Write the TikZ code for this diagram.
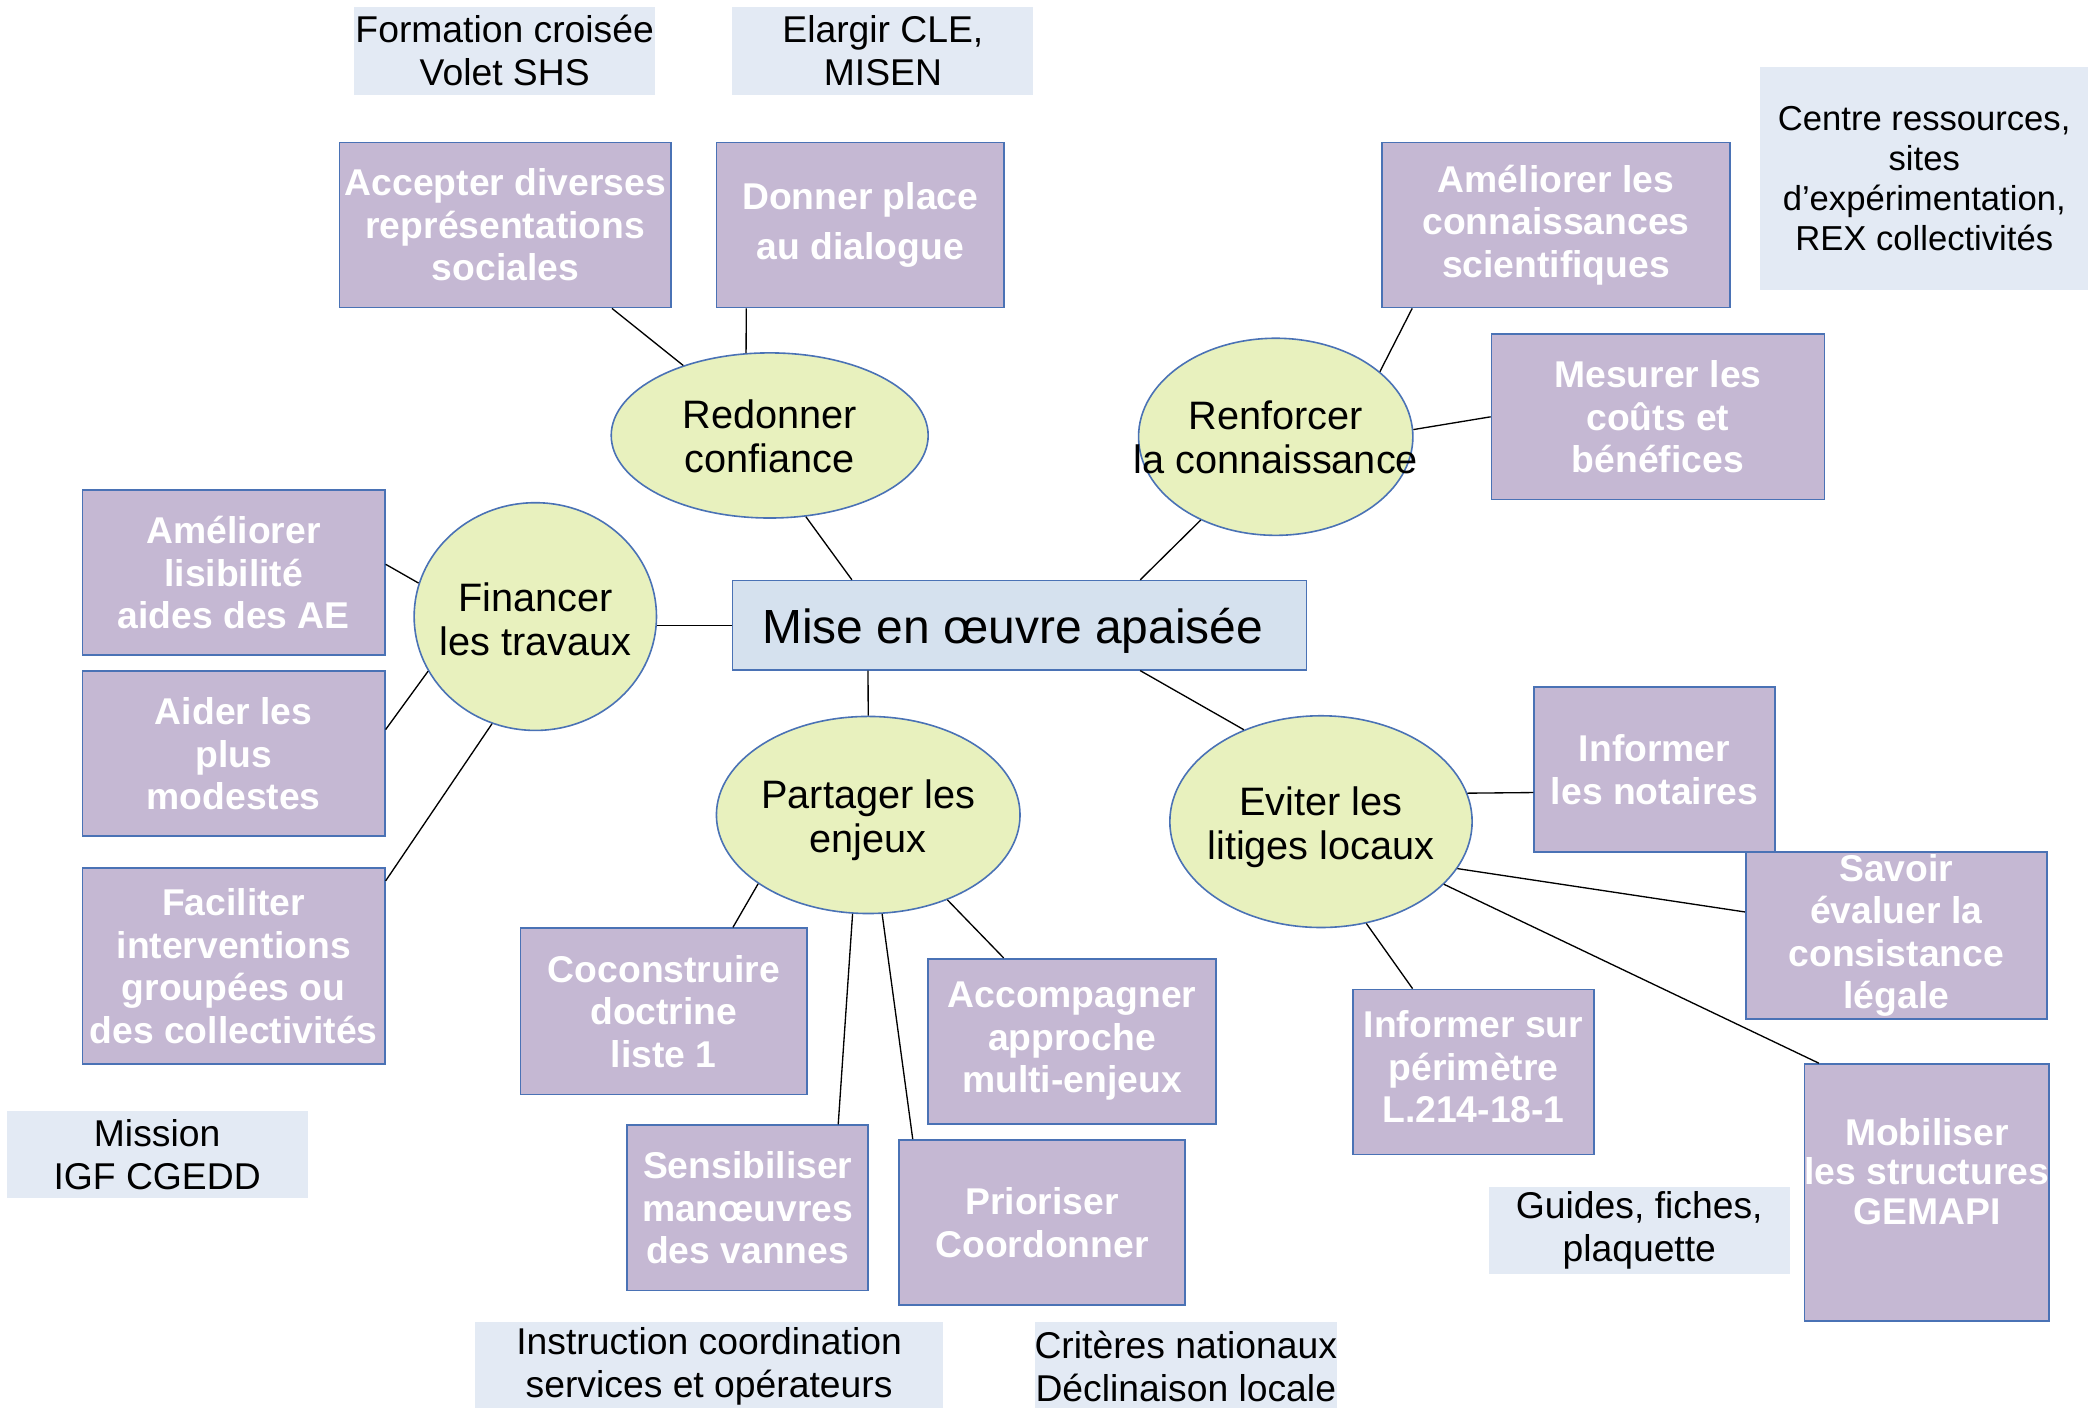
\documentclass[tikz,border=0pt]{standalone}
\usepackage{fontspec}
\setmainfont{Liberation Sans}
\usetikzlibrary{shapes.geometric,calc}
\definecolor{purp}{RGB}{197,184,211}
\definecolor{bord}{RGB}{74,114,181}
\definecolor{lblue}{RGB}{227,234,244}
\definecolor{cblue}{RGB}{213,225,238}
\definecolor{ellf}{RGB}{232,241,190}
\newcommand\etxt[2][6pt]{\makebox[0pt]{\raisebox{-#1}[0pt][0pt]{\begin{tabular}{@{}c@{}}#2\end{tabular}}}}
\begin{document}
\begin{tikzpicture}[x=0.5pt,y=-0.5pt,
 pbox/.style={rectangle,draw=bord,line width=0.6pt,fill=purp,text=white,font=\bfseries\fontsize{14}{16}\selectfont,align=center,inner sep=0pt},
 lbox/.style={rectangle,fill=lblue,font=\fontsize{14}{16}\selectfont,align=center,inner sep=0pt},
 ell/.style={ellipse,draw=bord,line width=0.6pt,fill=ellf,inner sep=0pt,font=\fontsize{14.9}{16.5}\selectfont},
 conn/.style={draw=black,line width=0.5pt}]
\useasboundingbox (0,0) rectangle (1568,1057);
\clip (0,0) rectangle (1568,1057);

% light blue notes
\node[lbox,minimum width=113pt,minimum height=33pt] (n1) at (379,38) {Formation croisée\\Volet SHS};
\node[lbox,minimum width=113pt,minimum height=33pt] (n2) at (663,38) {Elargir CLE,\\MISEN};
\node[lbox,minimum width=123pt,minimum height=84pt,font=\fontsize{13}{15}\selectfont] (n3) at (1445,134) {Centre ressources,\\sites\\d’expérimentation,\\REX collectivités};
\node[lbox,minimum width=113pt,minimum height=33pt] (n4) at (118,867) {Mission\\IGF CGEDD};
\node[lbox,minimum width=113pt,minimum height=33pt] (n5) at (1231,924) {Guides, fiches,\\plaquette};
\node[lbox,minimum width=175.5pt,minimum height=33pt] (n6) at (532.5,1026) {Instruction coordination\\services et opérateurs};
\node[lbox,minimum width=113.5pt,minimum height=33pt] (n7) at (890.5,1026) {Critères nationaux\\Déclinaison locale};

% central box
\node[rectangle,draw=bord,line width=0.6pt,fill=cblue,minimum width=215.5pt,minimum height=33.5pt,inner sep=0pt,font=\fontsize{18}{21}\selectfont] (main) at (765.5,469.5) {\raisebox{-6.75pt}[0pt][0pt]{\makebox[0pt]{Mise en œuvre apaisée\hspace{5pt}}}};

% ellipses
\node[ell,minimum width=119pt,minimum height=62pt] (red) at (578,327) {\etxt{Redonner\\confiance}};
\node[ell,minimum width=103pt,minimum height=74pt] (ren) at (958,328) {\etxt{Renforcer\\la connaissance}};
\node[ell,minimum width=91pt,minimum height=85.5pt] (fin) at (402,463) {\etxt[6.8pt]{Financer\\les travaux}};
\node[ell,minimum width=114pt,minimum height=74pt] (par) at (652,612) {\etxt{Partager les\\enjeux}};
\node[ell,minimum width=113.5pt,minimum height=79.5pt] (evi) at (992,617) {\etxt[6.3pt]{Eviter les\\litiges locaux}};

% purple boxes
\node[pbox,minimum width=124.5pt,minimum height=62pt] (acc) at (379.5,169) {Accepter diverses\\représentations\\sociales};
\node[pbox,minimum width=108pt,minimum height=62pt] (don) at (646,169) {Donner place\\[3pt]au dialogue};
\node[pbox,minimum width=130.5pt,minimum height=62pt] (ame) at (1168.5,169) {Améliorer les\\connaissances\\scientifiques};
\node[pbox,minimum width=125pt,minimum height=62pt] (mes) at (1245,313) {Mesurer les\\coûts et\\bénéfices};
\node[pbox,minimum width=113.5pt,minimum height=62pt] (lis) at (175.5,430) {Améliorer\\lisibilité\\aides des AE};
\node[pbox,minimum width=113.5pt,minimum height=62pt] (aid) at (175.5,566) {Aider les\\plus\\modestes};
\node[pbox,minimum width=113.5pt,minimum height=73.5pt] (fac) at (175.5,725.5) {Faciliter\\interventions\\groupées ou\\des collectivités};
\node[pbox,minimum width=107.5pt,minimum height=62.5pt] (coc) at (498.5,759.5) {Coconstruire\\doctrine\\liste 1};
\node[pbox,minimum width=108pt,minimum height=62pt] (acp) at (805,782) {Accompagner\\approche\\multi-enjeux};
\node[pbox,minimum width=90.5pt,minimum height=62pt] (sen) at (561.5,907) {Sensibiliser\\manœuvres\\des vannes};
\node[pbox,minimum width=107.5pt,minimum height=62pt] (pri) at (782.5,918) {Prioriser\\Coordonner};
\node[pbox,minimum width=90.5pt,minimum height=62pt] (not) at (1242.5,578) {Informer\\les notaires};
\node[pbox,minimum width=113pt,minimum height=62.5pt] (sav) at (1424,702.5) {Savoir\\évaluer la\\consistance\\légale};
\node[pbox,minimum width=90.5pt,minimum height=62pt] (inf) at (1106.5,805) {Informer sur\\périmètre\\L.214-18-1\\[-12pt]\mbox{}};
\node[pbox,minimum width=90pt,minimum height=96.5pt,font=\bfseries\fontsize{14}{14.8}\selectfont] (mob) at (1447,895.5) {Mobiliser\\les structures\\GEMAPI\\[1pt]\mbox{}};

% connectors
\draw[conn] ($(main.north west)!0.209!(main.north east)$) -- (red.294);
\draw[conn] ($(main.north west)!0.71!(main.north east)$) -- (ren.228);
\draw[conn] (main.west) -- (main.west -| fin.east);
\draw[conn] ($(main.south west)!0.237!(main.south east)$) -- (par.90);
\draw[conn] ($(main.south west)!0.71!(main.south east)$) -- (evi.130);
\draw[conn] ($(acc.south west)!0.82!(acc.south east)$) -- (red.141);
\draw[conn] ($(don.south west)!0.106!(don.south east)$) -- (red.106);
\draw[conn] ($(ame.south west)!0.088!(ame.south east)$) -- (ren.32);
\draw[conn] (mes.west) -- (ren.3);
\draw[conn] ($(lis.north east)!0.45!(lis.south east)$) -- (fin.164);
\draw[conn] ($(aid.north east)!0.355!(aid.south east)$) -- (fin.207);
\draw[conn] ($(fac.north east)!0.068!(fac.south east)$) -- (fin.248);
\draw[conn] ($(coc.north west)!0.74!(coc.north east)$) -- (par.212);
\draw[conn] ($(acp.north west)!0.264!(acp.north east)$) -- (par.313);
\draw[conn] ($(sen.north west)!0.873!(sen.north east)$) -- (par.261);
\draw[conn] ($(pri.north west)!0.051!(pri.north east)$) -- (par.278);
\draw[conn] ($(not.north west)!0.637!(not.south west)$) -- (evi.11);
\draw[conn] ($(sav.north west)!0.36!(sav.south west)$) -- (evi.341);
\draw[conn] ($(inf.north west)!0.249!(inf.north east)$) -- (evi.294);
\draw[conn] ($(mob.north west)!0.061!(mob.north east)$) -- (evi.333);
\end{tikzpicture}
\end{document}
